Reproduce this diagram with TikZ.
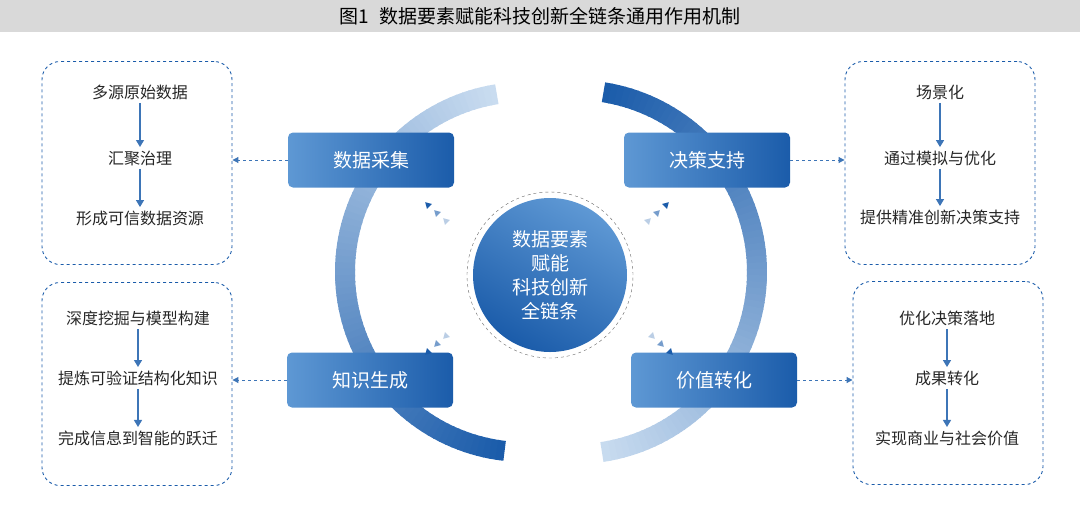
\documentclass[tikz,border=0pt]{standalone}
\usepackage{fontspec}
\setmainfont{Noto Sans CJK SC}
\usetikzlibrary{shapes.geometric,arrows.meta}
\definecolor{deepblue}{HTML}{1B5CAA}
\definecolor{lightblue}{HTML}{5E98D4}
\definecolor{paleblue}{HTML}{C9DCF0}
\tikzstyle{stage} = [rectangle, rounded corners=5, minimum width=166, minimum height=55, left color=lightblue, right color=deepblue, text=white, font=\fontsize{19}{21}\selectfont]
\tikzstyle{panel} = [rectangle, rounded corners=18, draw=deepblue, dashed, line width=0.9, minimum width=190, minimum height=203]
\tikzstyle{item} = [text=black!85, font=\fontsize{16}{18}\selectfont]
\tikzstyle{arrow} = [deepblue!85, line width=1.3, -{Triangle[length=7,width=8]}]
\tikzstyle{link} = [deepblue!85, dashed, line width=1, -{Triangle[length=6,width=6]}]
\tikzstyle{pip} = [isosceles triangle, fill, inner sep=0, minimum size=6, isosceles triangle apex angle=60]

\begin{document}
\begin{tikzpicture}[x=1pt, y=1pt]
    \useasboundingbox (0,0) rectangle (1080,-507);
    \fill[black!15] (0,0) rectangle (1080,-32);
    \node (title) at (540,-16) {\fontsize{19}{21}\selectfont 图1\enspace 数据要素赋能科技创新全链条通用作用机制};

    % arcs
    \foreach \a in {99,101,...,261}
        \pgfmathsetmacro{\t}{(\a-99)/162*100}
        \draw[line width=20, deepblue!\t!paleblue] ({525+180*cos(\a)},{-272+180*sin(\a)}) arc[start angle=\a, end angle=\a+2.5, radius=180];
    \foreach \a in {81,79,...,-79}
        \pgfmathsetmacro{\t}{(\a+81)/162*100}
        \draw[line width=20, deepblue!\t!paleblue] ({575+182*cos(\a)},{-272+182*sin(\a)}) arc[start angle=\a, end angle=\a-2.5, radius=182];

    % hub
    \node (hubring) [circle, draw=black!60, dashed, minimum size=166] at (550,-275) {};
    \node (hub) [circle, minimum size=154, shading=axis, top color=lightblue, bottom color=deepblue, shading angle=-30, text=white, align=center, font=\fontsize{19}{24}\selectfont] at (550,-275) {数据要素\\赋能\\科技创新\\全链条};

    % stages
    \node (collect) [stage] at (371,-160) {数据采集};
    \node (decide) [stage] at (707,-160) {决策支持};
    \node (know) [stage] at (370,-380) {知识生成};
    \node (value) [stage] at (714,-380) {价值转化};

    % pips
    \foreach \i/\s in {0/100,1/60,2/30}{
        \node [pip, rotate=135, deepblue!\s] at (428+9*\i,-205-8*\i) {};
        \node [pip, rotate=45, deepblue!\s] at (666-9*\i,-205-8*\i) {};
        \node [pip, rotate=225, deepblue!\s] at (428+9*\i,-352+8*\i) {};
        \node [pip, rotate=-45, deepblue!\s] at (670-9*\i,-352+8*\i) {};
    }

    % panels
    \node (p1) [panel] at (137,-163) {};
    \node (p2) [panel] at (137,-384) {};
    \node (p3) [panel] at (940,-163) {};
    \node (p4) [panel] at (948,-383) {};

    \node (a1) [item] at (140,-92) {多源原始数据};
    \node (a2) [item] at (140,-158) {汇聚治理};
    \node (a3) [item] at (140,-218) {形成可信数据资源};
    \node (b1) [item] at (138,-318) {深度挖掘与模型构建};
    \node (b2) [item] at (138,-378) {提炼可验证结构化知识};
    \node (b3) [item] at (138,-438) {完成信息到智能的跃迁};
    \node (c1) [item] at (940,-92) {场景化};
    \node (c2) [item] at (940,-158) {通过模拟与优化};
    \node (c3) [item] at (940,-217) {提供精准创新决策支持};
    \node (d1) [item] at (947,-318) {优化决策落地};
    \node (d2) [item] at (947,-378) {成果转化};
    \node (d3) [item] at (947,-438) {实现商业与社会价值};

    \draw [arrow] (a1) -- (a2);
    \draw [arrow] (a2) -- (a3);
    \draw [arrow] (b1) -- (b2);
    \draw [arrow] (b2) -- (b3);
    \draw [arrow] (c1) -- (c2);
    \draw [arrow] (c2) -- (c3);
    \draw [arrow] (d1) -- (d2);
    \draw [arrow] (d2) -- (d3);

    \draw [link] (collect) -- (p1.east |- collect);
    \draw [link] (know) -- (p2.east |- know);
    \draw [link] (decide) -- (p3.west |- decide);
    \draw [link] (value) -- (p4.west |- value);
\end{tikzpicture}
\end{document}
